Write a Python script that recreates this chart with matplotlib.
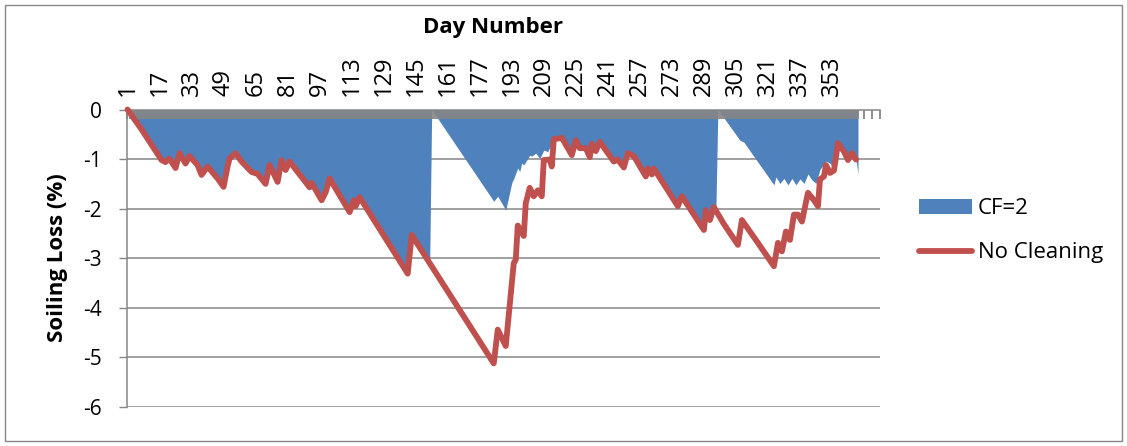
import matplotlib
matplotlib.use('Agg')
import matplotlib.pyplot as plt
from matplotlib.patches import Rectangle
from matplotlib.ticker import FixedLocator

# soiling loss (%) without cleaning, vertices by day number
nc_day = [1, 8, 18, 20, 22, 25, 27, 30, 32, 36, 38, 41, 46, 49, 51, 52, 55, 58,
          63, 66, 70, 72, 76, 78, 80, 82, 92, 93, 98, 100, 102, 112, 114, 115,
          117, 141, 143, 184, 186, 190, 194, 195, 196, 199, 200, 202, 204, 206,
          208, 209, 212, 213, 214, 217, 218, 223, 225, 227, 230, 232, 233, 235,
          237, 244, 246, 249, 251, 254, 260, 261, 263, 264, 276, 278, 289, 290,
          292, 294, 299, 301, 306, 308, 316, 324, 326, 328, 330, 332, 334, 336,
          338, 341, 344, 346, 347, 349, 350, 352, 354, 356, 359, 361, 363, 365]
nc_loss = [0.0, -0.40, -1.02, -1.06, -0.99, -1.18, -0.88, -1.09, -0.94, -1.12,
           -1.32, -1.15, -1.39, -1.56, -1.15, -0.99, -0.88, -1.05, -1.26, -1.30,
           -1.50, -1.12, -1.46, -1.02, -1.22, -1.05, -1.57, -1.48, -1.83, -1.67,
           -1.39, -2.07, -1.83, -1.95, -1.77, -3.31, -2.53, -5.12, -4.44, -4.77,
           -3.10, -3.03, -2.34, -2.55, -1.89, -1.58, -1.75, -1.63, -1.75, -1.02,
           -1.01, -1.15, -0.60, -0.58, -0.57, -0.92, -0.62, -0.78, -0.78, -0.96,
           -0.69, -0.84, -0.65, -1.05, -1.01, -1.17, -0.88, -0.94, -1.35, -1.19,
           -1.31, -1.19, -1.95, -1.75, -2.43, -2.03, -2.23, -1.97, -2.31, -2.43,
           -2.73, -2.23, -2.69, -3.16, -2.69, -2.86, -2.46, -2.63, -2.12, -2.12,
           -2.26, -1.68, -1.83, -1.95, -1.41, -1.35, -1.12, -1.28, -1.23, -0.68,
           -0.85, -1.02, -0.88, -1.01]

# soiling loss (%) with cleaning frequency 2
cf_day = [1, 8, 18, 20, 22, 25, 27, 30, 32, 36, 38, 41, 46, 49, 51, 52, 55, 58,
          63, 66, 70, 72, 76, 78, 80, 82, 92, 93, 98, 100, 102, 112, 114, 115,
          117, 141, 143, 152, 153,
          184, 186, 190, 193, 194, 196, 197, 198, 199, 202, 203, 205, 207, 209,
          211, 214, 217, 218, 223, 225, 227, 230, 232, 233, 235, 237, 244, 246,
          249, 251, 254, 260, 261, 263, 264, 276, 278, 289, 290, 292, 294, 295,
          296, 307, 309, 324, 325, 327, 329, 331, 333, 335, 337, 339, 341, 343,
          345, 347, 350, 352, 354, 356, 359, 361, 363, 365, 366]
cf_loss = [0.0, -0.40, -1.02, -1.06, -0.99, -1.18, -0.88, -1.09, -0.94, -1.12,
           -1.32, -1.15, -1.39, -1.56, -1.15, -0.99, -0.88, -1.05, -1.26, -1.30,
           -1.50, -1.12, -1.46, -1.02, -1.22, -1.05, -1.57, -1.48, -1.83, -1.67,
           -1.39, -2.07, -1.83, -1.95, -1.77, -3.31, -2.53, -3.08, 0.0,
           -1.85, -1.75, -2.03, -1.48, -1.39, -1.18, -1.25, -1.08, -1.12, -0.92,
           -0.94, -0.88, -0.99, -0.82, -0.85, -0.60, -0.58, -0.57, -0.92, -0.62,
           -0.78, -0.78, -0.96, -0.69, -0.84, -0.65, -1.05, -1.01, -1.17, -0.88,
           -0.94, -1.35, -1.19, -1.31, -1.19, -1.95, -1.75, -2.43, -2.03, -2.23,
           -1.97, -2.03,
           0.0, -0.62, -0.66, -1.52, -1.36, -1.49, -1.39, -1.52, -1.39, -1.52,
           -1.40, -1.49, -1.30, -1.42, -1.49, -1.21, -1.04, -1.08, -1.23, -0.68,
           -0.85, -1.02, -0.88, -1.01, -1.30]

tick_days = list(range(1, 354, 16))
y_ticks = [0, -1, -2, -3, -4, -5, -6]
n_days = 377

blue = '#4F81BD'
red = '#C0504D'
grey = '#868686'

plt.rcParams['font.family'] = ['Open Sans', 'DejaVu Sans']

W, H = 1127, 446
fig = plt.figure(figsize=(W / 100, H / 100), dpi=100)
ax = fig.add_axes([127.5 / W, 39 / H, 752.5 / W, 297.5 / H])

for yv in y_ticks[1:]:
    ax.axhline(yv, color=grey, lw=1.1, zorder=0.5)

ax.fill_between(cf_day, cf_loss, 0, color=blue, lw=0, zorder=1, label='CF=2')
ax.plot(nc_day, nc_loss, color=red, lw=4.2, solid_joinstyle='round',
        solid_capstyle='round', zorder=3, clip_on=False, label='No Cleaning')

ax.set_xlim(1, n_days)
ax.set_ylim(-6, 0)

# a tick for every day, thinner spacing past the data
minor_days = list(range(1, 367)) + list(range(369, n_days + 1, 4))
ax.xaxis.tick_top()
ax.xaxis.set_major_locator(FixedLocator(tick_days))
ax.xaxis.set_minor_locator(FixedLocator(minor_days))
ax.set_xticklabels([str(d) for d in tick_days], rotation=90, fontsize=17)
ax.tick_params(axis='x', which='both', direction='in', length=6.5, width=1.3,
               color=grey, pad=10.0)
ax.set_yticks(y_ticks)
ax.set_yticklabels([str(v) for v in y_ticks], fontsize=15)
ax.tick_params(axis='y', direction='out', length=5.8, width=1.0, color=grey,
               pad=12.5)

for s in ['bottom', 'right']:
    ax.spines[s].set_visible(False)
for s in ['top', 'left']:
    ax.spines[s].set_color(grey)
    ax.spines[s].set_linewidth(1.1)

fig.text(493 / W, 1 - 28 / H, 'Day Number', ha='center', va='center',
         fontsize=16, fontweight='bold')
fig.text(58 / W, 1 - 258 / H, 'Soiling Loss (%)', ha='center', va='center',
         rotation=90, fontsize=16, fontweight='bold')

ax.legend(loc='upper left', bbox_to_anchor=(908 / W, 1 - 187 / H),
          bbox_transform=fig.transFigure, frameon=False, fontsize=16,
          borderpad=0, handlelength=2.4, handleheight=0.65,
          handletextpad=0.25, labelspacing=1.05)

fig.add_artist(Rectangle((5 / W, 5 / H), 1117 / W, 436 / H, fill=False,
                         edgecolor=grey, lw=1.0, transform=fig.transFigure))

fig.savefig('out.png', dpi=100)
